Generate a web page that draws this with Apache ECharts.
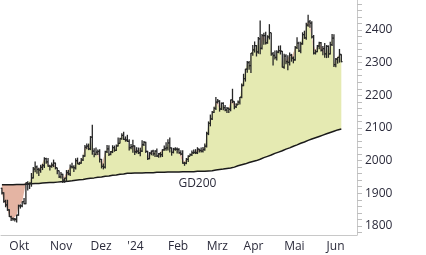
<!DOCTYPE html>
<html>
<head>
<meta charset="utf-8">
<script src="https://cdn.jsdelivr.net/npm/echarts@6/dist/echarts.min.js"></script>
<style>
    html, body { margin: 0; padding: 0; background: #fff; }
    #chart { width: 426px; height: 255px; }
</style>
</head>
<body>
<div id="chart"></div>
<script>
// Handelstage je Monat (die letzten 8 Juni-Tage ohne Kurse, nur Platz rechts)
var months = ['2023-09', '2023-10', '2023-11', '2023-12', '2024-01', '2024-02', '2024-03', '2024-04', '2024-05', '2024-06'];
var tradingDays = [
    [26, 27, 28, 29],
    [2, 3, 4, 5, 6, 9, 10, 11, 12, 13, 16, 17, 18, 19, 20, 23, 24, 25, 26, 27, 30, 31],
    [1, 2, 3, 6, 7, 8, 9, 10, 13, 14, 15, 16, 17, 20, 21, 22, 23, 24, 27, 28, 29, 30],
    [1, 4, 5, 6, 7, 8, 11, 12, 13, 14, 15, 18, 19, 20, 21, 22, 26, 27, 28, 29],
    [2, 3, 4, 5, 8, 9, 10, 11, 12, 15, 16, 17, 18, 19, 22, 23, 24, 25, 26, 29, 30, 31],
    [1, 2, 5, 6, 7, 8, 9, 12, 13, 14, 15, 16, 19, 20, 21, 22, 23, 26, 27, 28, 29],
    [1, 4, 5, 6, 7, 8, 11, 12, 13, 14, 15, 18, 19, 20, 21, 22, 25, 26, 27, 28],
    [1, 2, 3, 4, 5, 8, 9, 10, 11, 12, 15, 16, 17, 18, 19, 22, 23, 24, 25, 26, 29, 30],
    [1, 2, 3, 6, 7, 8, 9, 10, 13, 14, 15, 16, 17, 20, 21, 22, 23, 24, 27, 28, 29, 30, 31],
    [3, 4, 5, 6, 7, 10, 11, 12, 13, 14, 17, 18, 19, 20, 21, 24, 25]
];
var monthNames = ['Jan', 'Feb', 'Mrz', 'Apr', 'Mai', 'Jun', 'Jul', 'Aug', 'Sep', 'Okt', 'Nov', 'Dez'];

var opens = [
    1915, 1901, 1875, 1864,
    1849, 1828, 1822, 1821, 1820, 1833, 1861, 1861, 1874, 1868, 1932, 1929, 1931, 1947, 1974, 1981, 1973, 1971, 1979, 1985, 2006, 1996,
    1983, 1982, 1986, 1992, 1978, 1969, 1950, 1958, 1940, 1946, 1963, 1959, 1981, 1980, 1978, 2000, 1990, 1992, 2002, 2014, 2041, 2044,
    2036, 2072, 2029, 2019, 2026, 2028, 2004, 1982, 1980, 2027, 2036, 2019, 2027, 2040, 2031, 2045, 2053, 2067, 2077, 2065,
    2063, 2059, 2040, 2043, 2045, 2027, 2029, 2024, 2029, 2049, 2056, 2028, 2006, 2023, 2029, 2021, 2029, 2014, 2021, 2018, 2033, 2037,
    2039, 2054, 2039, 2025, 2035, 2035, 2034, 2024, 2020, 1992, 1992, 2004, 2013, 2018, 2024, 2025, 2024, 2035, 2031, 2029, 2034,
    2044, 2083, 2114, 2128, 2148, 2160, 2179, 2182, 2158, 2175, 2162, 2155, 2160, 2157, 2186, 2181, 2165, 2171, 2179, 2194,
    2230, 2251, 2280, 2300, 2291, 2329, 2339, 2352, 2333, 2373, 2344, 2383, 2383, 2361, 2379, 2392, 2327, 2322, 2316, 2332, 2337, 2335,
    2286, 2320, 2303, 2301, 2323, 2314, 2309, 2346, 2360, 2336, 2358, 2386, 2376, 2415, 2425, 2421, 2379, 2329, 2334, 2351, 2361, 2338, 2343,
    2327, 2350, 2327, 2355, 2375, 2294, 2311, 2316, 2325
];
var highs = [
    1917, 1903, 1880, 1880,
    1851, 1831, 1826, 1824, 1834, 1865, 1866, 1875, 1885, 1933, 1937, 1933, 1962, 1980, 1997, 1985, 1978, 1987, 1990, 2010, 2009, 2008,
    1987, 1994, 2003, 1994, 1978, 1970, 1965, 1960, 1947, 1971, 1971, 1988, 1993, 1986, 2007, 2009, 1996, 2008, 2018, 2048, 2052, 2052,
    2075, 2110, 2038, 2040, 2034, 2035, 2005, 1991, 2030, 2048, 2047, 2029, 2047, 2046, 2049, 2071, 2070, 2084, 2088, 2074,
    2079, 2065, 2051, 2064, 2046, 2041, 2040, 2039, 2062, 2060, 2058, 2030, 2026, 2031, 2033, 2032, 2037, 2023, 2026, 2035, 2046, 2056,
    2065, 2071, 2040, 2039, 2041, 2040, 2038, 2032, 2032, 1996, 2008, 2016, 2022, 2031, 2034, 2035, 2041, 2036, 2040, 2042, 2052,
    2088, 2120, 2141, 2152, 2165, 2195, 2189, 2185, 2178, 2179, 2170, 2164, 2163, 2187, 2220, 2182, 2176, 2184, 2195, 2236,
    2266, 2281, 2305, 2305, 2330, 2354, 2365, 2354, 2379, 2429, 2388, 2392, 2395, 2384, 2418, 2392, 2333, 2337, 2338, 2352, 2353, 2336,
    2327, 2326, 2323, 2331, 2327, 2319, 2351, 2378, 2364, 2364, 2393, 2398, 2422, 2447, 2431, 2427, 2385, 2340, 2354, 2364, 2363, 2351, 2360,
    2354, 2353, 2364, 2388, 2387, 2314, 2317, 2342, 2326
];
var lows = [
    1896, 1871, 1857, 1846,
    1827, 1815, 1816, 1813, 1810, 1831, 1853, 1857, 1866, 1866, 1908, 1913, 1920, 1945, 1964, 1960, 1953, 1963, 1971, 1977, 1990, 1981,
    1970, 1978, 1980, 1973, 1958, 1947, 1945, 1931, 1932, 1935, 1955, 1953, 1976, 1965, 1973, 1989, 1987, 1990, 1999, 2012, 2035, 2032,
    2032, 2018, 2010, 2016, 2017, 1994, 1976, 1973, 1976, 2023, 2014, 2016, 2023, 2027, 2029, 2043, 2052, 2064, 2063, 2058,
    2057, 2031, 2035, 2024, 2017, 2022, 2020, 2013, 2026, 2045, 2023, 2002, 2004, 2016, 2015, 2011, 2011, 2009, 2010, 2011, 2030, 2030,
    2031, 2025, 2015, 2022, 2030, 2022, 2021, 2016, 1990, 1984, 1989, 1996, 2013, 2014, 2020, 2020, 2020, 2025, 2025, 2025, 2030,
    2040, 2078, 2105, 2124, 2146, 2155, 2175, 2150, 2155, 2154, 2151, 2146, 2146, 2151, 2176, 2157, 2161, 2170, 2172, 2191,
    2228, 2242, 2269, 2278, 2268, 2321, 2331, 2319, 2327, 2326, 2340, 2355, 2356, 2358, 2371, 2321, 2291, 2310, 2307, 2329, 2325, 2285,
    2281, 2295, 2277, 2291, 2303, 2298, 2306, 2342, 2333, 2329, 2355, 2373, 2370, 2410, 2407, 2374, 2325, 2325, 2332, 2341, 2334, 2323, 2315,
    2314, 2315, 2325, 2351, 2287, 2286, 2297, 2300, 2301
];
var closes = [
    1901, 1875, 1864, 1849,
    1828, 1822, 1821, 1820, 1833, 1861, 1861, 1874, 1868, 1932, 1929, 1931, 1947, 1974, 1981, 1973, 1971, 1979, 1985, 2006, 1996, 1983,
    1982, 1986, 1992, 1978, 1969, 1950, 1958, 1940, 1946, 1963, 1959, 1981, 1980, 1978, 2000, 1990, 1992, 2002, 2014, 2041, 2044, 2036,
    2072, 2029, 2019, 2026, 2028, 2004, 1982, 1980, 2027, 2036, 2019, 2027, 2040, 2031, 2045, 2053, 2067, 2077, 2065, 2063,
    2059, 2040, 2043, 2045, 2027, 2029, 2024, 2029, 2049, 2056, 2028, 2006, 2023, 2029, 2021, 2029, 2014, 2021, 2018, 2033, 2037, 2039,
    2054, 2039, 2025, 2035, 2035, 2034, 2024, 2020, 1992, 1992, 2004, 2013, 2018, 2024, 2025, 2024, 2035, 2031, 2029, 2034, 2044,
    2083, 2114, 2128, 2148, 2160, 2179, 2182, 2158, 2175, 2162, 2155, 2160, 2157, 2186, 2181, 2165, 2171, 2179, 2194, 2230,
    2251, 2280, 2300, 2291, 2329, 2339, 2352, 2333, 2373, 2344, 2383, 2383, 2361, 2379, 2392, 2327, 2322, 2316, 2332, 2337, 2335, 2286,
    2320, 2303, 2301, 2323, 2314, 2309, 2346, 2360, 2336, 2358, 2386, 2376, 2415, 2425, 2421, 2379, 2329, 2334, 2351, 2361, 2338, 2343, 2327,
    2350, 2327, 2355, 2375, 2294, 2311, 2316, 2325, 2303
];
// GD200 (gleitender Durchschnitt 200 Tage)
var gd200 = [
    1926, 1926, 1926, 1926,
    1926, 1926, 1926, 1926, 1927, 1927, 1927, 1927, 1927, 1928, 1928, 1929, 1929, 1929, 1930, 1930, 1930, 1931, 1931, 1932, 1932, 1932,
    1933, 1933, 1933, 1934, 1934, 1934, 1935, 1935, 1936, 1936, 1937, 1938, 1938, 1939, 1940, 1940, 1941, 1942, 1942, 1943, 1944, 1945,
    1946, 1947, 1947, 1948, 1949, 1950, 1950, 1951, 1952, 1953, 1953, 1954, 1955, 1956, 1956, 1957, 1958, 1959, 1959, 1960,
    1961, 1961, 1961, 1961, 1962, 1962, 1962, 1962, 1962, 1962, 1963, 1963, 1963, 1963, 1963, 1963, 1964, 1964, 1964, 1964, 1964, 1964,
    1965, 1965, 1965, 1965, 1965, 1965, 1965, 1966, 1966, 1966, 1966, 1966, 1966, 1966, 1966, 1967, 1967, 1967, 1967, 1967, 1967,
    1967, 1968, 1969, 1969, 1970, 1971, 1972, 1973, 1973, 1974, 1975, 1976, 1976, 1977, 1979, 1980, 1982, 1984, 1985, 1987,
    1989, 1990, 1992, 1994, 1995, 1997, 1998, 2000, 2002, 2004, 2007, 2009, 2011, 2013, 2015, 2017, 2020, 2022, 2024, 2026, 2028, 2030,
    2032, 2035, 2037, 2039, 2041, 2044, 2046, 2048, 2050, 2053, 2055, 2057, 2059, 2062, 2064, 2066, 2068, 2070, 2072, 2074, 2076, 2078, 2080,
    2082, 2084, 2086, 2088, 2090, 2092, 2094, 2096, 2097
];
var gdLabelIndex = 106;

var yLabels = [1800, 1900, 2000, 2100, 2200, 2300, 2400];
var yTicks = [1780, 1800, 1820, 1840, 1860, 1880, 1900, 1920, 1940, 1960, 1980, 2000, 2020, 2040, 2060, 2080,
    2100, 2120, 2140, 2160, 2180, 2200, 2220, 2240, 2260, 2280, 2300, 2320, 2340, 2360, 2380, 2400, 2420, 2440, 2460, 2480];

var dates = [];
months.forEach(function (m, k) {
    tradingDays[k].forEach(function (d) {
        dates.push(m + '-' + (d < 10 ? '0' + d : d));
    });
});

var upFill = closes.map(function (c, i) { return Math.max(c - gd200[i], 0); });
var downFill = closes.map(function (c, i) { return Math.min(c - gd200[i], 0); });
var ohlc = closes.map(function (c, i) { return [i, opens[i], highs[i], lows[i], c]; });

var textColor = '#2b2b3b';
var axisColor = '#c8c8c8';

function isMonthStart(index) {
    return index > 0 && dates[index].slice(0, 7) !== dates[index - 1].slice(0, 7);
}

// OHLC-Balken: senkrecht Hoch/Tief, links Eröffnung, rechts Schluss
function renderBar(params, api) {
    var i = api.value(0);
    var x = api.coord([i, api.value(1)])[0];
    var yo = api.coord([i, api.value(1)])[1];
    var yh = api.coord([i, api.value(2)])[1];
    var yl = api.coord([i, api.value(3)])[1];
    var yc = api.coord([i, api.value(4)])[1];
    var w = 1.3;
    return {
        type: 'group',
        children: [
            { type: 'line', shape: { x1: x, y1: yh, x2: x, y2: yl }, style: { stroke: '#262626', lineWidth: w } },
            { type: 'line', shape: { x1: x - 1.2, y1: yo, x2: x, y2: yo }, style: { stroke: '#262626', lineWidth: w } },
            { type: 'line', shape: { x1: x, y1: yc, x2: x + 1.2, y2: yc }, style: { stroke: '#262626', lineWidth: w } }
        ]
    };
}

var chart = echarts.init(document.getElementById('chart'));
var option = {
    animation: false,
    textStyle: { fontFamily: 'Open Sans' },
    grid: { left: 1, right: 69, top: 0, bottom: 20, containLabel: false, outerBoundsMode: 'none' },
    xAxis: {
        type: 'category',
        data: dates,
        boundaryGap: true,
        axisLine: { lineStyle: { color: axisColor, width: 1 } },
        axisTick: {
            interval: function (index) { return isMonthStart(index); },
            length: 20,
            lineStyle: { color: axisColor }
        },
        axisLabel: {
            interval: function (index) { return isMonthStart(index); },
            align: 'left',
            margin: 6,
            fontSize: 12,
            color: textColor,
            formatter: function (value) {
                var m = parseInt(value.slice(5, 7), 10) - 1;
                return m === 0 ? "'" + value.slice(2, 4) : monthNames[m];
            }
        },
        splitLine: { show: false }
    },
    yAxis: {
        type: 'value',
        position: 'right',
        min: 1772,
        max: 2492,
        splitLine: { show: false },
        axisLine: { show: true, lineStyle: { color: axisColor } },
        axisTick: { show: true, length: 5, customValues: yTicks, lineStyle: { color: '#bdbdbd' } },
        axisLabel: {
            customValues: yLabels,
            margin: 8,
            fontSize: 12,
            color: textColor,
            formatter: function (v) { return String(v); }
        }
    },
    series: [
        {
            name: 'GD200',
            type: 'line',
            data: gd200,
            stack: 'fill',
            stackStrategy: 'all',
            symbol: 'none',
            lineStyle: { color: '#1a1a1a', width: 1.5 },
            z: 3,
            markPoint: {
                symbol: 'circle',
                symbolSize: 0,
                data: [{ coord: [gdLabelIndex, gd200[gdLabelIndex]] }],
                label: {
                    show: true,
                    position: 'bottom',
                    distance: 6,
                    formatter: 'GD200',
                    fontSize: 12,
                    color: textColor
                }
            }
        },
        {
            name: 'über GD200',
            type: 'line',
            data: upFill,
            stack: 'fill',
            stackStrategy: 'all',
            symbol: 'none',
            lineStyle: { width: 0 },
            areaStyle: { color: '#e5eab2', opacity: 1 },
            z: 1
        },
        {
            name: 'unter GD200',
            type: 'line',
            data: downFill,
            stack: 'fill',
            stackStrategy: 'all',
            symbol: 'none',
            lineStyle: { width: 0 },
            areaStyle: { color: '#e4b4a3', opacity: 1 },
            z: 1
        },
        {
            name: 'Kurs',
            type: 'custom',
            renderItem: renderBar,
            data: ohlc,
            encode: { x: 0, y: [1, 2, 3, 4] },
            z: 4
        }
    ]
};
chart.setOption(option);
</script>
</body>
</html>
